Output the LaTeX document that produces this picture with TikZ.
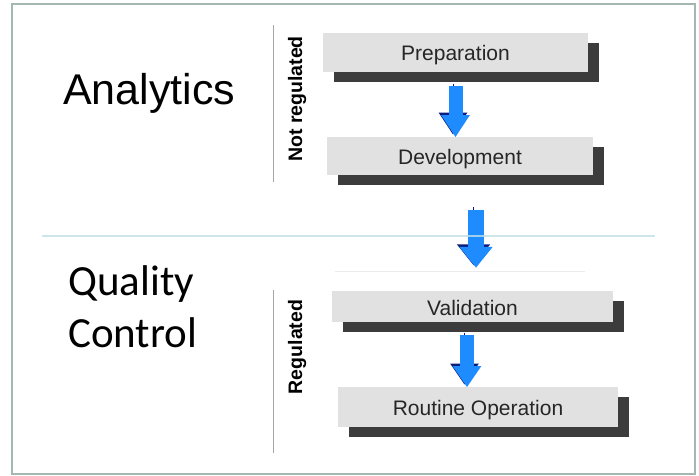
\documentclass[tikz,border=0pt]{standalone}
\usepackage{fontspec}
\setmainfont{Liberation Sans}
\newfontfamily\calibri{Carlito}
\usetikzlibrary{arrows.meta,positioning,shadows}

\definecolor{framegray}{HTML}{A3B8B3}
\definecolor{boxfill}{HTML}{E1E1E1}
\definecolor{boxshade}{HTML}{3C3C3C}
\definecolor{flowblue}{HTML}{1E8CFF}
\definecolor{flownavy}{HTML}{0C1C7E}
\definecolor{splitteal}{HTML}{BFE0E6}

\begin{document}
\begin{tikzpicture}[
  x=1pt, y=-1pt,
  node distance=65pt,
  stage/.style={fill=boxfill, inner sep=0pt, text=black!85,
    text height=17pt, text depth=0pt,
    font=\fontsize{21}{25}\selectfont,
    drop shadow={shadow xshift=11pt, shadow yshift=-10pt, fill=boxshade, opacity=1}},
  flow/.style={line width=14pt, draw=flowblue, -{Triangle[width=27pt,length=22pt]},
    preaction={draw=flownavy, transform canvas={shift={(-2.5pt,2.5pt)}}}},
  side/.style={rotate=90, font=\fontsize{19.5}{22}\selectfont\bfseries},
  area/.style={anchor=base west, inner sep=0pt}
]
\useasboundingbox (0,0) rectangle (699,476);
\draw[framegray, line width=2pt] (12,4) rectangle (695,474);

% the two phases on the left
\node[area, font=\fontsize{43}{50}\selectfont] (analytics) at (63,105) {Analytics};
\node[area, align=left, font=\calibri\fontsize{43}{52}\selectfont] (qc) at (68,347) {Quality\\Control};

% brackets and their labels
\draw[gray!70, line width=0.8pt] (273,25) coordinate (nrtop) -- (273,182) coordinate (nrbot);
\draw[gray!70, line width=0.8pt] (273,290) coordinate (rtop) -- (273,453) coordinate (rbot);
\node[side] (notreg) at (297,99) {Not regulated};
\node[side] (reg) at (297,347) {Regulated};

% process steps
\node[stage, minimum width=265pt, minimum height=39pt] (prep) at (455.5,52.5) {Preparation};
\node[stage, minimum width=266pt, minimum height=38pt, below=of prep, xshift=4.5pt] (dev) {Development};
\node[stage, minimum width=281pt, minimum height=31pt] (val) at (472.5,306.5) {Validation};
\node[stage, minimum width=280pt, minimum height=40pt, below=of val, xshift=5.5pt] (rout) {Routine Operation};

\draw[flow] ([yshift=-14pt]prep.south) -- ([xshift=-4.5pt]dev.north);
\draw[flow, line width=16pt, -{Triangle[width=32pt,length=21pt]}]
  ([xshift=16pt,yshift=-34pt]dev.south) -- ([xshift=3.5pt,yshift=23pt]val.north);
\draw[flow, -{Triangle[width=27pt,length=21pt]}]
  ([xshift=-5.5pt,yshift=-13pt]val.south) -- ([xshift=-11pt]rout.north);

% split between the phases
\draw[splitteal, line width=1.5pt, opacity=0.8] (42,236) coordinate (splitL) -- (655,236) coordinate (splitR);
\draw[black!8, line width=0.8pt] (335,271) coordinate (faintL) -- (585,271) coordinate (faintR);
\end{tikzpicture}
\end{document}
